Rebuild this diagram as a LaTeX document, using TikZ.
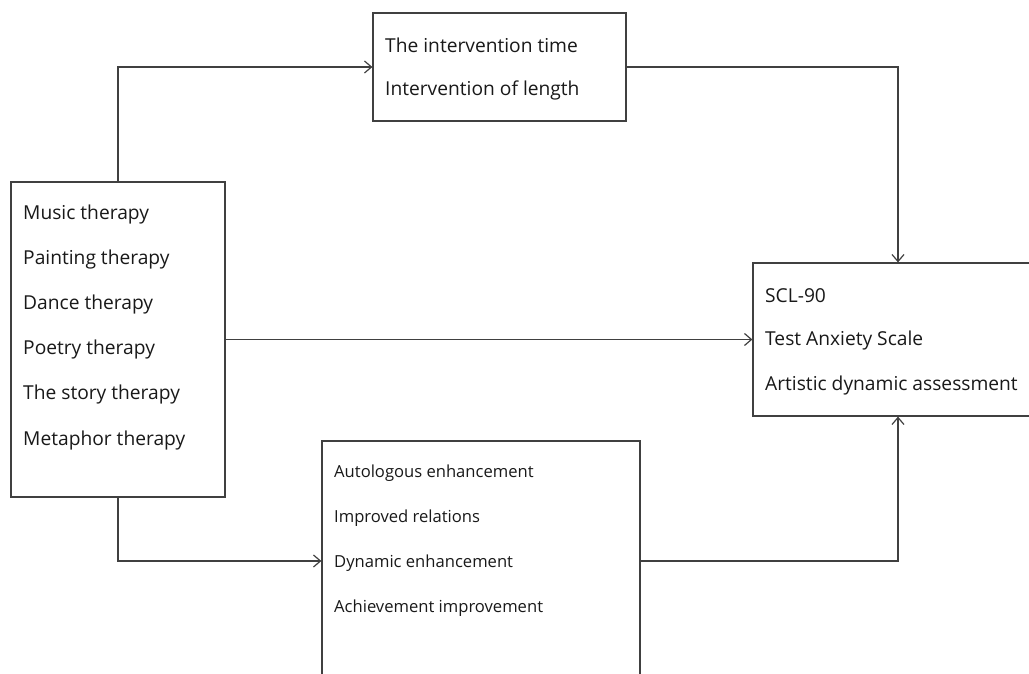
\documentclass[tikz,border=0pt]{standalone}
\usepackage{fontspec}
\setmainfont{Open Sans}
\usetikzlibrary{arrows.meta}
\begin{document}
\begin{tikzpicture}[x=1pt,y=-1pt,
  box/.style={draw=black!75, line width=1.2pt, fill=white, inner sep=0pt, rectangle},
  big/.style={anchor=west, inner sep=0pt, text=black!90, font=\fontsize{19.2}{22}\selectfont},
  small/.style={anchor=west, inner sep=0pt, text=black!90, font=\fontsize{16.6}{19}\selectfont},
  arr/.style={draw=black!75, line width=1.2pt, -{Straight Barb[length=7pt,width=12pt,line width=1.2pt]}}]
\useasboundingbox (0,0) rectangle (1029,674);
\clip (0,0) rectangle (1029,674);
% boxes
\node[box, minimum width=214pt, minimum height=315pt] (src) at (118,339.5) {};
\node[box, minimum width=253pt, minimum height=108pt] (dur) at (499.5,67) {};
\node[box, minimum width=290pt, minimum height=153pt] (out) at (898,339.5) {};
\node[box, minimum width=318pt, minimum height=240pt] (med) at (481,561) {};
% connectors
\draw[arr] (src.north) |- (dur.west);
\draw[arr] (dur.east) -| (out.north);
\draw[arr] (src.east) -- (out.west);
\draw[arr] (src.south) |- (med.west);
\draw[arr] (med.east) -| (out.south);
% therapies
\node[big] (s1) at (23,214.5) {Music therapy};
\node[big] (s2) at (23,259.5) {Painting therapy};
\node[big] (s3) at (23,304.5) {Dance therapy};
\node[big] (s4) at (23,349.5) {Poetry therapy};
\node[big] (s5) at (23,395) {The story therapy};
\node[big] (s6) at (23,440.5) {Metaphor therapy};
% intervention
\node[big] (d1) at (385,45) {The intervention time};
\node[big] (d2) at (385,90.5) {Intervention of length};
% outcomes
\node[big] (o1) at (765,295.5) {SCL-90};
\node[big] (o2) at (765,340.5) {Test Anxiety Scale};
\node[big] (o3) at (765,385.5) {Artistic dynamic assessment};
% mechanisms
\node[small] (m1) at (334,473) {Autologous enhancement};
\node[small] (m2) at (334,518) {Improved relations};
\node[small] (m3) at (334,563) {Dynamic enhancement};
\node[small] (m4) at (334,608) {Achievement improvement};
\end{tikzpicture}
\end{document}
